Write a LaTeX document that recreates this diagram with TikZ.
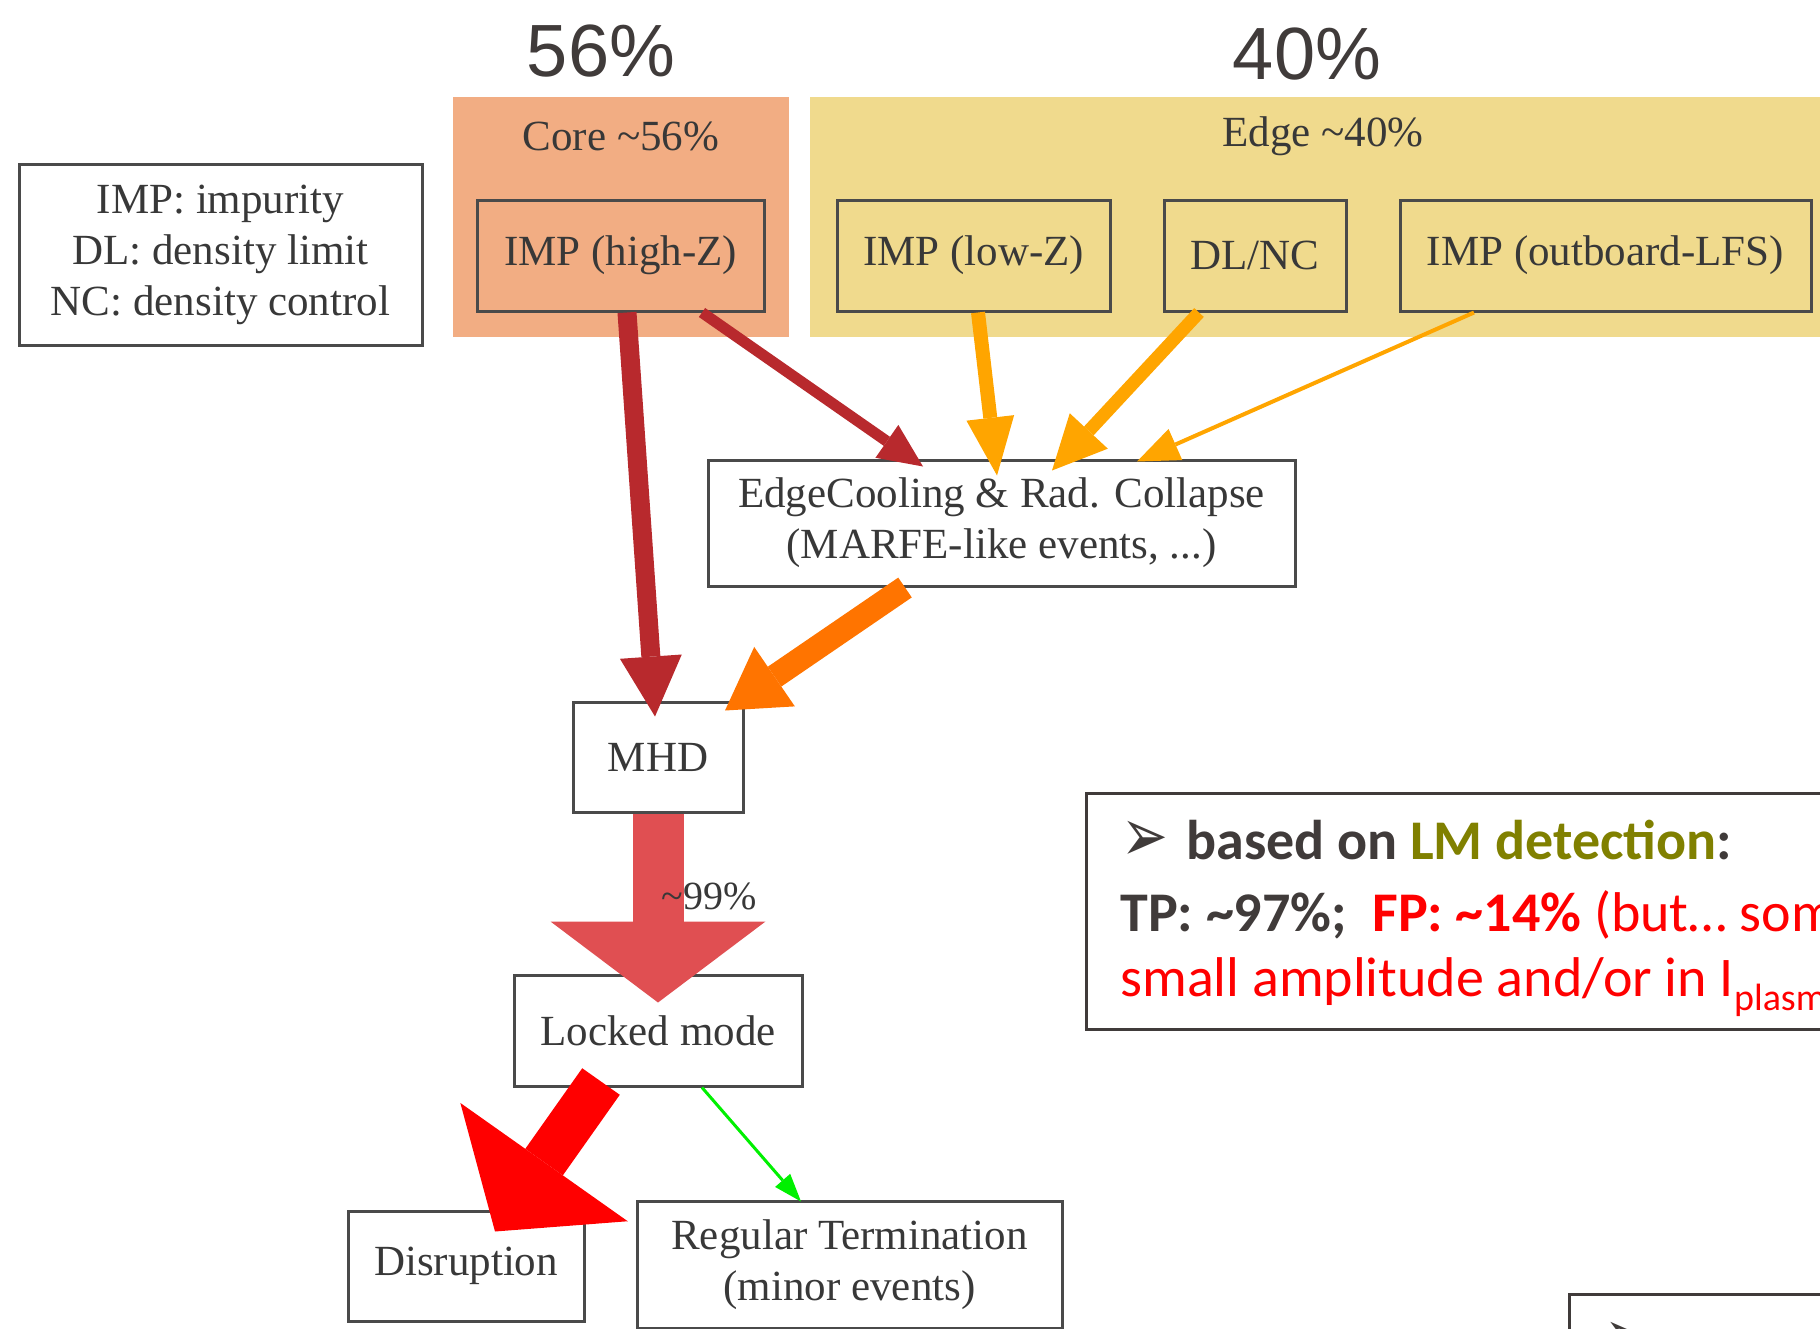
\documentclass[tikz,border=0pt]{standalone}
\usepackage{fontspec}
\usepackage{graphicx}
\setmainfont{Liberation Serif}
\newfontfamily\pctfont{Liberation Sans}
\newfontfamily\notefont{Carlito}
\newfontfamily\dingfnt{DejaVu Sans}
\usetikzlibrary{arrows.meta}

\definecolor{coreFill}{HTML}{F2AD83}
\definecolor{edgeFill}{HTML}{F0DA8D}
\definecolor{boxLine}{HTML}{4A4A4A}
\definecolor{txtGray}{HTML}{383838}
\definecolor{pctGray}{HTML}{403B3A}
\definecolor{noteGray}{HTML}{403B3A}
\definecolor{lmOlive}{HTML}{808000}
\definecolor{impRed}{HTML}{B8292D}
\definecolor{lowOrange}{HTML}{FFA500}
\definecolor{coolOrange}{HTML}{FF7400}
\definecolor{lmRed}{HTML}{E04F52}
\definecolor{lmGreen}{HTML}{00F000}

\newcommand{\gfont}{\fontsize{21.5}{25.5}\selectfont}
\newcommand{\nfont}{\notefont\fontsize{28}{32}\selectfont}
\newcommand{\bulletarrow}{\raisebox{-1pt}{\scalebox{1}[1.35]{\dingfnt\fontsize{28}{28}\selectfont ➢}}}

\tikzset{
  gbox/.style={draw=boxLine, line width=1.5pt, inner sep=0pt, align=center, text=txtGray, font=\gfont},
  flow/.style n args={4}{color=#1, line width=#2, -{Triangle[length=#3, width=#4, line width=0pt]}},
  notebox/.style={draw=noteGray, line width=1.3pt, anchor=north west, inner sep=0pt},
  noteline/.style={anchor=base west, inner sep=0pt, font=\nfont},
}

\begin{document}
\begin{tikzpicture}[x=0.5pt, y=-0.5pt]
    % --- 1. page frame (slide pixels) ---
    \useasboundingbox (0,0) rectangle (1820,1328);
    \clip (0,0) rectangle (1820,1328);

    % --- 2. clusters Core / Edge ---
    \fill[coreFill] (453,97) rectangle (789,337);
    \fill[edgeFill] (810,97) rectangle (1840,337);
    \node[text=txtGray, font=\gfont] (coreLbl) at (621,136) {Core \textasciitilde56\%};
    \node[text=txtGray, font=\gfont] (edgeLbl) at (1323,136) {Edge \textasciitilde40\%};

    % --- 3. shares above the clusters ---
    \node[text=pctGray, font=\pctfont\fontsize{37}{40}\selectfont] (pctCore) at (601,51) {56\%};
    \node[text=pctGray, font=\pctfont\fontsize{37}{40}\selectfont] (pctEdge) at (1307,54) {40\%};

    % --- 4. graph nodes ---
    \node[gbox, minimum width=201.5pt, minimum height=90.5pt] (legend) at (220.5,254.5)
        {IMP: impurity\\DL: density limit\\NC: density control};
    \node[gbox, minimum width=143.5pt, minimum height=55.5pt] (highZ) at (620.5,255.5) {IMP (high-Z)};
    \node[gbox, minimum width=136.5pt, minimum height=55.5pt] (lowZ) at (973.5,255.5) {IMP (low-Z)};
    \node[gbox, minimum width=91pt, minimum height=55.5pt] (dlnc) at (1255,255.5) {DL/NC};
    \node[gbox, minimum width=205.5pt, minimum height=55.5pt] (lfs) at (1605.5,255.5) {IMP (outboard-LFS)};
    \node[gbox, minimum width=293.5pt, minimum height=63pt] (cool) at (1001.5,523)
        {EdgeCooling \& Rad. Collapse\\(MARFE-like events, ...)};
    \node[gbox, minimum width=85pt, minimum height=55pt] (mhd) at (658,757) {MHD};
    \node[gbox, minimum width=144pt, minimum height=55.5pt] (lm) at (658,1030.5) {Locked mode};
    \node[gbox, minimum width=118pt, minimum height=55pt] (disr) at (466,1266) {Disruption};
    \node[gbox, minimum width=212.5pt, minimum height=63.5pt] (reg) at (849.5,1264.5)
        {Regular Termination\\(minor events)};

    % --- 5. flows (width ~ weight) ---
    \draw[flow={impRed}{9.5pt}{30pt}{31pt}] ([xshift=3.25pt]highZ.south) -- ([shift={(-1.5pt,-8pt)}]mhd.north);
    \draw[flow={impRed}{5.5pt}{22pt}{20pt}] ([xshift=40.75pt]highZ.south) -- ([shift={(-39.25pt,-4pt)}]cool.north);
    \draw[flow={lowOrange}{7pt}{29pt}{24pt}] ([xshift=2.25pt]lowZ.south) -- ([shift={(-2.25pt,-8.5pt)}]cool.north);
    \draw[flow={lowOrange}{6.5pt}{27pt}{26pt}] ([xshift=-28pt]dlnc.south) -- ([shift={(25.25pt,-6pt)}]cool.north);
    \draw[flow={lowOrange}{2pt}{21pt}{17pt}] ([xshift=-65.75pt]lfs.south) -- ([shift={(67.75pt,-1.5pt)}]cool.north);
    \draw[flow={coolOrange}{12pt}{30pt}{36pt}] ([xshift=-48.25pt]cool.south) -- ([shift={(33.5pt,-5pt)}]mhd.north);
    \draw[flow={lmRed}{25.5pt}{40.5pt}{107.5pt}] (mhd.south) -- ([yshift=-14.5pt]lm.north);
    \draw[flow={red}{23pt}{42.5pt}{102.5pt}] ([shift={(-28.5pt,3pt)}]lm.south) -- ([shift={(14.5pt,-11pt)}]disr.north);
    \draw[flow={lmGreen}{1.5pt}{14pt}{10pt}] ([xshift=22pt]lm.south) -- ([shift={(-24.25pt,-1pt)}]reg.north);
    \node[text=txtGray, font=\fontsize{20}{22}\selectfont, inner sep=0pt] (share) at (709,896) {\textasciitilde99\%};

    % --- 6. notes on the right ---
    \node[notebox, minimum width=382.5pt, minimum height=118pt] (note) at (1085,792) {};
    \node[noteline, text=noteGray] (noteA) at (1121,859)
        {\bulletarrow\hspace{9pt}\bfseries based on \textcolor{lmOlive}{LM detection}:};
    \node[noteline, text=red] (noteB) at (1120,931)
        {{\color{noteGray}\bfseries TP: \textasciitilde97\%;}\ \ {\bfseries FP: \textasciitilde14\%} (but… some};
    \node[noteline, text=red] (noteC) at (1120,996)
        {small amplitude and/or in I\raisebox{-7pt}{\fontsize{19}{19}\selectfont plasma}};
    \node[notebox, minimum width=200pt, minimum height=100pt] (noteNext) at (1568,1293) {};
    \node[noteline, text=noteGray] (noteNextA) at (1604,1360) {\bulletarrow};
\end{tikzpicture}
\end{document}
